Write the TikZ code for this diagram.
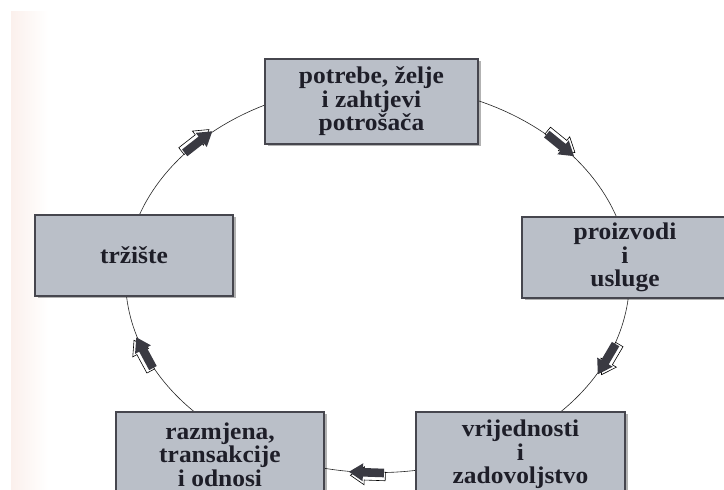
\documentclass[tikz,border=0pt]{standalone}
\usepackage{fontspec}
\newfontfamily\boxfont[FakeStretch=1.06]{Liberation Serif}
\usetikzlibrary{shadows,calc}
\definecolor{boxfill}{RGB}{186,191,200}
\definecolor{boxline}{RGB}{70,70,78}
\definecolor{txt}{RGB}{30,30,40}
\definecolor{arrfill}{RGB}{58,58,66}
\definecolor{pinkish}{RGB}{251,240,236}
\tikzset{
  stagebox/.style={draw=boxline, line width=1.5pt, fill=boxfill, text=txt,
    align=center, inner sep=2pt,
    font=\boxfont\fontsize{24}{23.5}\selectfont\bfseries,
    drop shadow={shadow xshift=2.5pt, shadow yshift=-2.5pt, fill=black, opacity=0.3}},
  ring/.style={draw=black!85, line width=0.6pt},
}
\newcommand{\blockarrow}[2]{%
  \begin{scope}[shift={(#1)}, rotate=#2]
    \filldraw[fill=white, draw=black, line width=0.6pt, shift={(-1.5,3.4)}]
      (-17,-4.3) -- (4,-4.3) -- (4,-9) -- (18,0) -- (4,9) -- (4,4.3) -- (-17,4.3) -- cycle;
    \fill[arrfill]
      (-17,-4.3) -- (4,-4.3) -- (4,-9) -- (18,0) -- (4,9) -- (4,4.3) -- (-17,4.3) -- cycle;
  \end{scope}}
\begin{document}
\begin{tikzpicture}[x=1pt,y=1pt]
\useasboundingbox (0,0) rectangle (724,490);
\fill[white] (0,0) rectangle (724,490);
\shade[left color=pinkish, right color=white] (11,0) rectangle (48,478);
\coordinate (c) at (377.5,211.4);
\draw[ring] (c) ellipse [x radius=252, y radius=194];
\coordinate (a1) at ($(c)+(135.4:252 and 194)$);
\coordinate (a2) at ($(c)+(43.6:252 and 194)$);
\coordinate (a3) at ($(c)+(-24.4:252 and 194)$);
\coordinate (a4) at ($(c)+(267.6:252 and 194)$);
\coordinate (a5) at ($(c)+(202.6:252 and 194)$);
\blockarrow{a1}{38}
\blockarrow{a2}{-39}
\blockarrow{a3}{-120.5}
\blockarrow{a4}{178}
\blockarrow{a5}{118.4}
\node[stagebox, minimum width=213pt, minimum height=85pt] (needs) at (371.5,388.5) {potrebe, želje\\i zahtjevi\\potrošača};
\node[stagebox, minimum width=206pt, minimum height=81pt] (products) at (625,232.5) {proizvodi\\i\\usluge};
\node[stagebox, minimum width=209pt, minimum height=85pt] (value) at (520.5,35.5) {vrijednosti\\i\\zadovoljstvo};
\node[stagebox, minimum width=208pt, minimum height=85pt] (exchange) at (220,35.5) {razmjena,\\transakcije\\i odnosi};
\node[stagebox, minimum width=198pt, minimum height=81pt] (market) at (134,234.5) {tržište};
\end{tikzpicture}
\end{document}
